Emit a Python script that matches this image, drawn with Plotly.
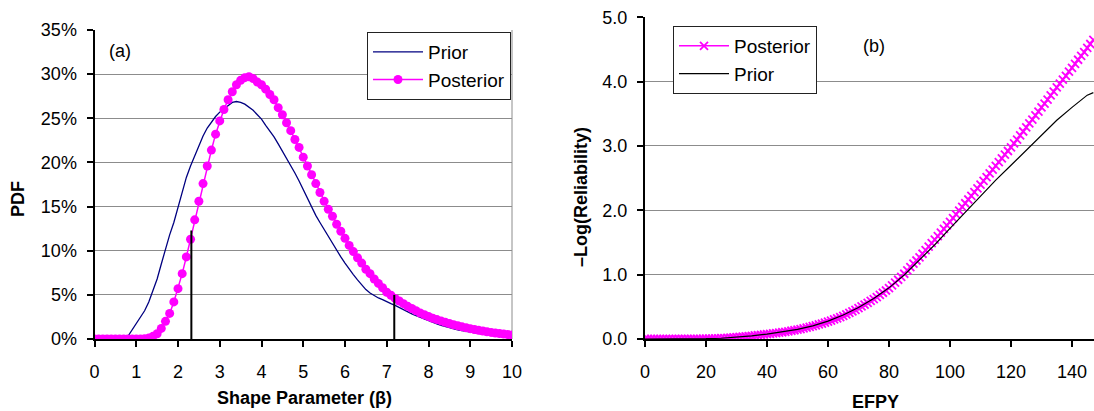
import plotly.graph_objects as go

# ---------------- Panel (a): PDF of the shape parameter ----------------
beta = [round(i * 0.1, 1) for i in range(101)]
pdf_prior = [0, 0, 0, 0, 0, 0, 0, 0, 0.3, 1.0,
             1.7, 2.4, 3.2, 4.2, 5.4, 6.8, 8.5, 10.2, 11.8, 13.2,
             14.8, 16.6, 18.3, 19.6, 20.8, 22.0, 23.0, 23.9, 24.6, 25.2,
             25.7, 26.1, 26.5, 26.8, 26.9, 26.8, 26.6, 26.3, 25.9, 25.4,
             24.9, 24.2, 23.6, 22.9, 22.1, 21.3, 20.4, 19.6, 18.8, 17.9,
             16.9, 15.9, 14.9, 14.0, 13.2, 12.4, 11.6, 10.8, 10.0, 9.3,
             8.6, 7.9, 7.3, 6.7, 6.1, 5.6, 5.2, 4.9, 4.65, 4.45,
             4.2, 4.0, 3.8, 3.55, 3.3, 3.05, 2.85, 2.65, 2.45, 2.25,
             2.05, 1.85, 1.7, 1.55, 1.4, 1.27, 1.15, 1.04, 0.94, 0.85,
             0.76, 0.68, 0.6, 0.53, 0.46, 0.4, 0.35, 0.3, 0.26, 0.22,
             0.18]
pdf_post = [0, 0, 0, 0, 0, 0, 0, 0, 0, 0,
            0, 0, 0.02, 0.1, 0.3, 0.6, 1.2, 2.0, 2.9, 4.2,
            5.7, 7.4, 9.3, 11.3, 13.5, 15.6, 17.6, 19.6, 21.4, 23.2,
            24.7, 26.0, 27.1, 28.0, 28.8, 29.3, 29.6, 29.7, 29.5, 29.1,
            28.8, 28.3, 27.7, 27.1, 26.2, 25.4, 24.5, 23.6, 22.6, 21.7,
            20.6, 19.6, 18.6, 17.6, 16.6, 15.6, 14.7, 13.9, 13.0, 12.2,
            11.4, 10.6, 9.9, 9.2, 8.6, 7.9, 7.4, 6.8, 6.3, 5.8,
            5.3, 4.95, 4.6, 4.3, 4.0, 3.7, 3.45, 3.2, 2.95, 2.75,
            2.55, 2.35, 2.2, 2.05, 1.9, 1.75, 1.62, 1.5, 1.38, 1.27,
            1.17, 1.07, 0.98, 0.9, 0.82, 0.75, 0.68, 0.62, 0.56, 0.5,
            0.45]
bound_x = [2.32, 7.18]          # credible bounds (vertical markers)
bound_h = [12.3, 5.0]           # heights in %

# ---------------- Panel (b): -Log(Reliability) vs EFPY ----------------
efpy_post = list(range(148))
mlr_post = [0, 0, 0, 0, 0, 0, 0, 0, 0, 0,
            0.001, 0.001, 0.001, 0.001, 0.002, 0.002, 0.002, 0.003, 0.003, 0.004,
            0.005, 0.006, 0.007, 0.008, 0.01, 0.012, 0.014, 0.017, 0.02, 0.024,
            0.028, 0.032, 0.036, 0.04, 0.045, 0.05, 0.055, 0.06, 0.065, 0.07,
            0.075, 0.081, 0.087, 0.093, 0.099, 0.105, 0.112, 0.12, 0.128, 0.136,
            0.145, 0.155, 0.165, 0.176, 0.188, 0.2, 0.213, 0.226, 0.24, 0.255,
            0.27, 0.287, 0.304, 0.322, 0.341, 0.36, 0.382, 0.405, 0.429, 0.454,
            0.48, 0.507, 0.534, 0.562, 0.591, 0.62, 0.652, 0.685, 0.719, 0.754,
            0.79, 0.832, 0.876, 0.921, 0.967, 1.014, 1.065, 1.118, 1.17, 1.22,
            1.27, 1.325, 1.38, 1.435, 1.49, 1.545, 1.60, 1.655, 1.71, 1.765,
            1.82, 1.878, 1.936, 1.994, 2.052, 2.11, 2.168, 2.226, 2.284, 2.342,
            2.40, 2.458, 2.516, 2.574, 2.632, 2.69, 2.748, 2.806, 2.864, 2.922,
            2.98, 3.04, 3.10, 3.165, 3.225, 3.29, 3.35, 3.41, 3.475, 3.535,
            3.60, 3.66, 3.72, 3.785, 3.845, 3.91, 3.97, 4.03, 4.09, 4.155,
            4.215, 4.275, 4.34, 4.40, 4.46, 4.525, 4.585, 4.65]
efpy_prior = [0, 5, 10, 15, 20, 25, 30, 35, 40, 45, 50, 55, 60, 65, 70, 75,
              80, 85, 90, 95, 100, 105, 110, 115, 120, 125, 130, 135, 140, 145, 147]
mlr_prior = [0, 0, 0.001, 0.002, 0.005, 0.012, 0.028, 0.05, 0.077, 0.108,
             0.15, 0.205, 0.278, 0.372, 0.49, 0.63, 0.795, 0.995, 1.225, 1.465,
             1.72, 1.97, 2.22, 2.47, 2.7, 2.93, 3.16, 3.4, 3.6, 3.79, 3.83]

FONT = "Liberation Sans, Arial, sans-serif"
W, H = 1094, 411
# pixel layout
L_x0, L_x1 = 94.5, 512
L_top, BOT = 30, 339
R_x0, R_top = 645, 17.3

fig = go.Figure()

fig.add_trace(go.Scatter(x=beta, y=[v / 100 for v in pdf_prior], mode="lines", name="Prior",
                         line=dict(color="#000080", width=1.3), xaxis="x", yaxis="y",
                         legend="legend"))
fig.add_trace(go.Scatter(x=beta, y=[v / 100 for v in pdf_post], mode="lines+markers", name="Posterior",
                         line=dict(color="#FF00FF", width=1.5),
                         marker=dict(color="#FF00FF", size=9, symbol="circle"),
                         xaxis="x", yaxis="y", legend="legend"))
vx, vy = [], []
for bx, bh in zip(bound_x, bound_h):
    vx += [bx, bx, None]
    vy += [0, bh / 100, None]
fig.add_trace(go.Scatter(x=vx, y=vy, mode="lines", line=dict(color="black", width=2),
                         showlegend=False, xaxis="x", yaxis="y", hoverinfo="skip"))

fig.add_trace(go.Scatter(x=efpy_post, y=mlr_post, mode="lines+markers", name="Posterior",
                         line=dict(color="#FF00FF", width=1.5),
                         marker=dict(symbol="x-thin", size=8, color="#FF00FF",
                                     line=dict(color="#FF00FF", width=1.8)),
                         xaxis="x2", yaxis="y2", legend="legend2"))
fig.add_trace(go.Scatter(x=efpy_prior, y=mlr_prior, mode="lines", name="Prior",
                         line=dict(color="black", width=1.2),
                         xaxis="x2", yaxis="y2", legend="legend2"))

ydom = [(H - BOT) / H, (H - L_top) / H]
ydom2 = [(H - BOT) / H, (H - R_top) / H]
axis_common = dict(showline=True, linecolor="black", ticks="outside", ticklen=6,
                   tickcolor="black", tickwidth=1.5, zeroline=False, automargin=False,
                   tickfont=dict(family=FONT, size=18, color="black"))

fig.update_layout(
    template="none",
    width=W, height=H, margin=dict(l=0, r=0, t=0, b=0, pad=0, autoexpand=False),
    paper_bgcolor="white", plot_bgcolor="white",
    font=dict(family=FONT, size=18, color="black"),
    xaxis=dict(domain=[L_x0 / W, L_x1 / W], range=[0, 10], dtick=1, showgrid=False,
               linewidth=1.5, ticklabelstandoff=10, anchor="y", **axis_common),
    yaxis=dict(domain=ydom, range=[0, 0.35], dtick=0.05, tickformat=".0%",
               showgrid=True, gridcolor="#8c8c8c", gridwidth=1, linewidth=2,
               ticklabelstandoff=6, anchor="x", **axis_common),
    xaxis2=dict(domain=[R_x0 / W, 1.0], range=[0, (W - R_x0) / 3.05], dtick=20,
                showgrid=False, linewidth=1.5, ticklabelstandoff=10, anchor="y2",
                **axis_common),
    yaxis2=dict(domain=ydom2, range=[0, 5], dtick=1, tickformat=".1f",
                showgrid=True, gridcolor="#8c8c8c", gridwidth=1, linewidth=2,
                ticklabelstandoff=6, anchor="x2", **axis_common),
    legend=dict(x=367 / W, y=(H - 32) / H, xanchor="left", yanchor="top",
                bgcolor="white", bordercolor="#222", borderwidth=1,
                font=dict(family=FONT, size=19), itemwidth=50, traceorder="normal"),
    legend2=dict(x=673 / W, y=(H - 26) / H, xanchor="left", yanchor="top",
                 bgcolor="white", bordercolor="#222", borderwidth=1,
                 font=dict(family=FONT, size=19), itemwidth=50, traceorder="normal"),
    showlegend=True,
)

# right frame border of panel (a)
fig.add_shape(type="line", xref="x domain", yref="y domain", x0=1, x1=1, y0=0, y1=1,
              line=dict(color="#8c8c8c", width=1), layer="below")

ann = [
    dict(text="(a)", x=120 / W, y=(H - 51) / H),
    dict(text="(b)", x=874 / W, y=(H - 46) / H),
    dict(text="<b>Shape Parameter (β)</b>", x=304 / W, y=(H - 398) / H),
    dict(text="<b>EFPY</b>", x=875 / W, y=(H - 402) / H),
    dict(text="<b>PDF</b>", x=18 / W, y=(H - 199) / H, textangle=-90),
    dict(text="<b>–Log(Reliability)</b>", x=581 / W, y=(H - 197) / H, textangle=-90),
]
for a in ann:
    fig.add_annotation(xref="paper", yref="paper", showarrow=False,
                       xanchor="center", yanchor="middle",
                       font=dict(family=FONT, size=18, color="black"), **a)

fig.write_html("out.html", config={"displayModeBar": False},
               post_script="document.body.style.margin='0';document.body.style.padding='0';")
